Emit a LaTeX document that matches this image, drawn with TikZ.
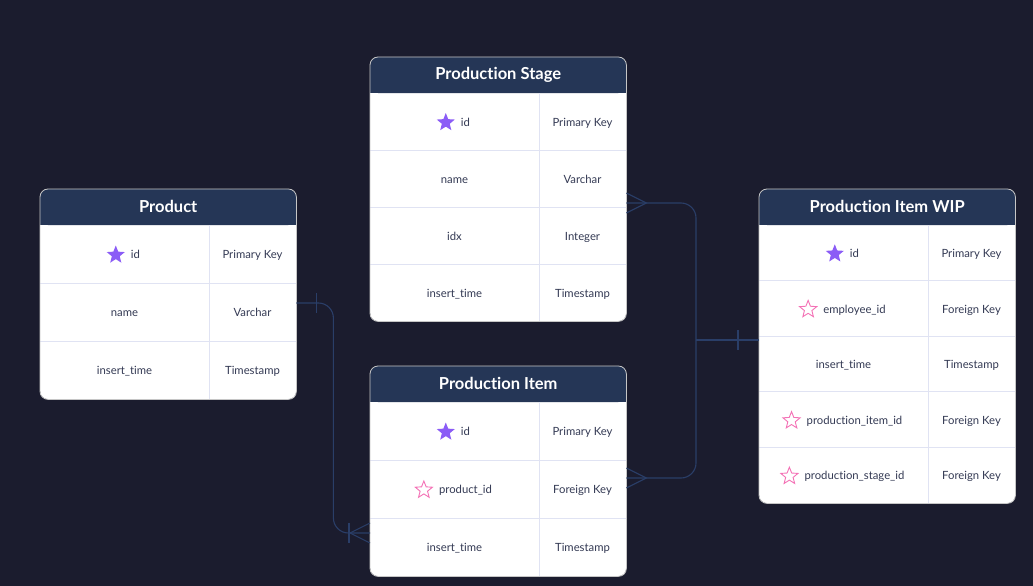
\documentclass[tikz,border=0pt]{standalone}
\usepackage{fontspec}
\setmainfont{Lato}[Ligatures=NoCommon]
\usepackage{tikz}
\usetikzlibrary{
	calc,
	positioning,
	shapes.geometric
}
\definecolor{BgNavy}{RGB}{27,28,46}
\definecolor{HeadNavy}{RGB}{37,54,86}
\definecolor{LinkNavy}{RGB}{42,62,104}
\definecolor{GridLine}{RGB}{224,227,243}
\definecolor{CellText}{RGB}{52,58,84}
\definecolor{PkPurple}{RGB}{139,92,246}
\definecolor{FkPink}{RGB}{244,114,182}

\tikzset{
	tablebox/.style={fill=white, rounded corners=8pt, minimum width=256pt, inner sep=0pt, anchor=north west},
	tableedge/.style={draw=gray!45, line width=0.8pt, rounded corners=8pt},
	gridline/.style={GridLine, line width=0.8pt},
	title/.style={text=white, font=\fontsize{16.5}{19}\selectfont\bfseries},
	cell/.style={text=CellText, inner sep=0pt, text height=7.5pt, text depth=2pt, font=\fontsize{11.3}{13}\selectfont},
	pkstar/.style={star, star points=5, star point ratio=2.3, fill=PkPurple, minimum size=19pt, inner sep=0pt},
	fkstar/.style={star, star points=5, star point ratio=2.3, draw=FkPink, line width=0.9pt, minimum size=18pt, inner sep=0pt},
	link/.style={LinkNavy, line width=1.1pt},
	oneend/.pic={\draw[link] (0,-10) -- (0,10);},
	manyend/.pic={\draw[link] (0,-10) -- (-20,0) -- (0,10);}
}

% table frame: name, x, y, rows, row height, title
\newcommand\erdTable[6]{%
	\node[tablebox, minimum height={36+#4*#5}] (#1) at (#2,#3) {};
	\fill[HeadNavy, rounded corners=8pt] (#1.north west) rectangle ($(#1.north east)+(0,36)$);
	\fill[HeadNavy] ($(#1.north west)+(0,18)$) rectangle ($(#1.north east)+(0,36)$);
	\node[title] (#1-title) at ($(#1.north)+(0,17.5)$) {#6};
	\draw[gridline] ($(#1.north west)+(169,36)$) -- ($(#1.south west)+(169,0)$);
	\pgfmathtruncatemacro\lastrow{#4-1}
	\foreach \r in {1,...,\lastrow}
		\draw[gridline] ($(#1.north west)+(0,{36+\r*#5})$) -- ($(#1.north east)+(0,{36+\r*#5})$);
	\draw[tableedge] (#1.north west) rectangle (#1.south east);
}
% plain row: table, row height, index, field, type
\newcommand\erdRow[5]{%
	\node[cell] (#1-f#3) at ($(#1.north west)+(84.5,{38+(#3-0.5)*#2})$) {#4};
	\node[cell] (#1-t#3) at ($(#1.north west)+(212.5,{38+(#3-0.5)*#2})$) {#5};
}
% key row: same, plus star style
\newcommand\erdKeyRow[6]{%
	\node[cell] (#1-f#3) at ($(#1.north west)+(95.5,{38+(#3-0.5)*#2})$) {#4};
	\node[#6] (#1-s#3) at ([xshift=-15pt,yshift=1pt]#1-f#3.west) {};
	\node[cell] (#1-t#3) at ($(#1.north west)+(212.5,{38+(#3-0.5)*#2})$) {#5};
}

\begin{document}
\begin{tikzpicture}[x=1pt, y=-1pt]
	\fill[BgNavy] (0,0) rectangle (1033,586);

	\erdTable{Product}{40}{189}{3}{58}{Product}
	\erdKeyRow{Product}{58}{1}{id}{Primary Key}{pkstar}
	\erdRow{Product}{58}{2}{name}{Varchar}
	\erdRow{Product}{58}{3}{insert\_time}{Timestamp}

	\erdTable{Stage}{370}{57}{4}{57}{Production Stage}
	\erdKeyRow{Stage}{57}{1}{id}{Primary Key}{pkstar}
	\erdRow{Stage}{57}{2}{name}{Varchar}
	\erdRow{Stage}{57}{3}{idx}{Integer}
	\erdRow{Stage}{57}{4}{insert\_time}{Timestamp}

	\erdTable{Item}{370}{366}{3}{58}{Production Item}
	\erdKeyRow{Item}{58}{1}{id}{Primary Key}{pkstar}
	\erdKeyRow{Item}{58}{2}{product\_id}{Foreign Key}{fkstar}
	\erdRow{Item}{58}{3}{insert\_time}{Timestamp}

	\erdTable{WIP}{759}{189}{5}{55.6}{Production Item WIP}
	\erdKeyRow{WIP}{55.6}{1}{id}{Primary Key}{pkstar}
	\erdKeyRow{WIP}{55.6}{2}{employee\_id}{Foreign Key}{fkstar}
	\erdRow{WIP}{55.6}{3}{insert\_time}{Timestamp}
	\erdKeyRow{WIP}{55.6}{4}{production\_item\_id}{Foreign Key}{fkstar}
	\erdKeyRow{WIP}{55.6}{5}{production\_stage\_id}{Foreign Key}{fkstar}

	% connector ends
	\coordinate (ProdOut) at ($(Product.north east)+(0,114)$);
	\coordinate (ItemIn) at ($(Item.north west)+(0,167)$);
	\coordinate (StageOut) at ($(Stage.north east)+(0,146)$);
	\coordinate (ItemOut) at ($(Item.north east)+(0,112)$);
	\coordinate (WipIn) at ($(WIP.north west)+(0,151)$);

	% product -> production item
	\draw[link, rounded corners=15pt] (ProdOut) -- ++(37,0) |- (ItemIn);
	\pic at ([xshift=20pt]ProdOut) {oneend};
	\pic at ([xshift=-21pt]ItemIn) {oneend};
	\pic at (ItemIn) {manyend};

	% wip -> stage / item
	\draw[link] (WipIn) -- ++(-63,0) coordinate (Split);
	\draw[link, rounded corners=15pt] (Split) |- (StageOut);
	\draw[link, rounded corners=15pt] (Split) |- (ItemOut);
	\pic at ([xshift=-21pt]WipIn) {oneend};
	\pic[rotate=180] at (StageOut) {manyend};
	\pic[rotate=180] at (ItemOut) {manyend};
\end{tikzpicture}
\end{document}
